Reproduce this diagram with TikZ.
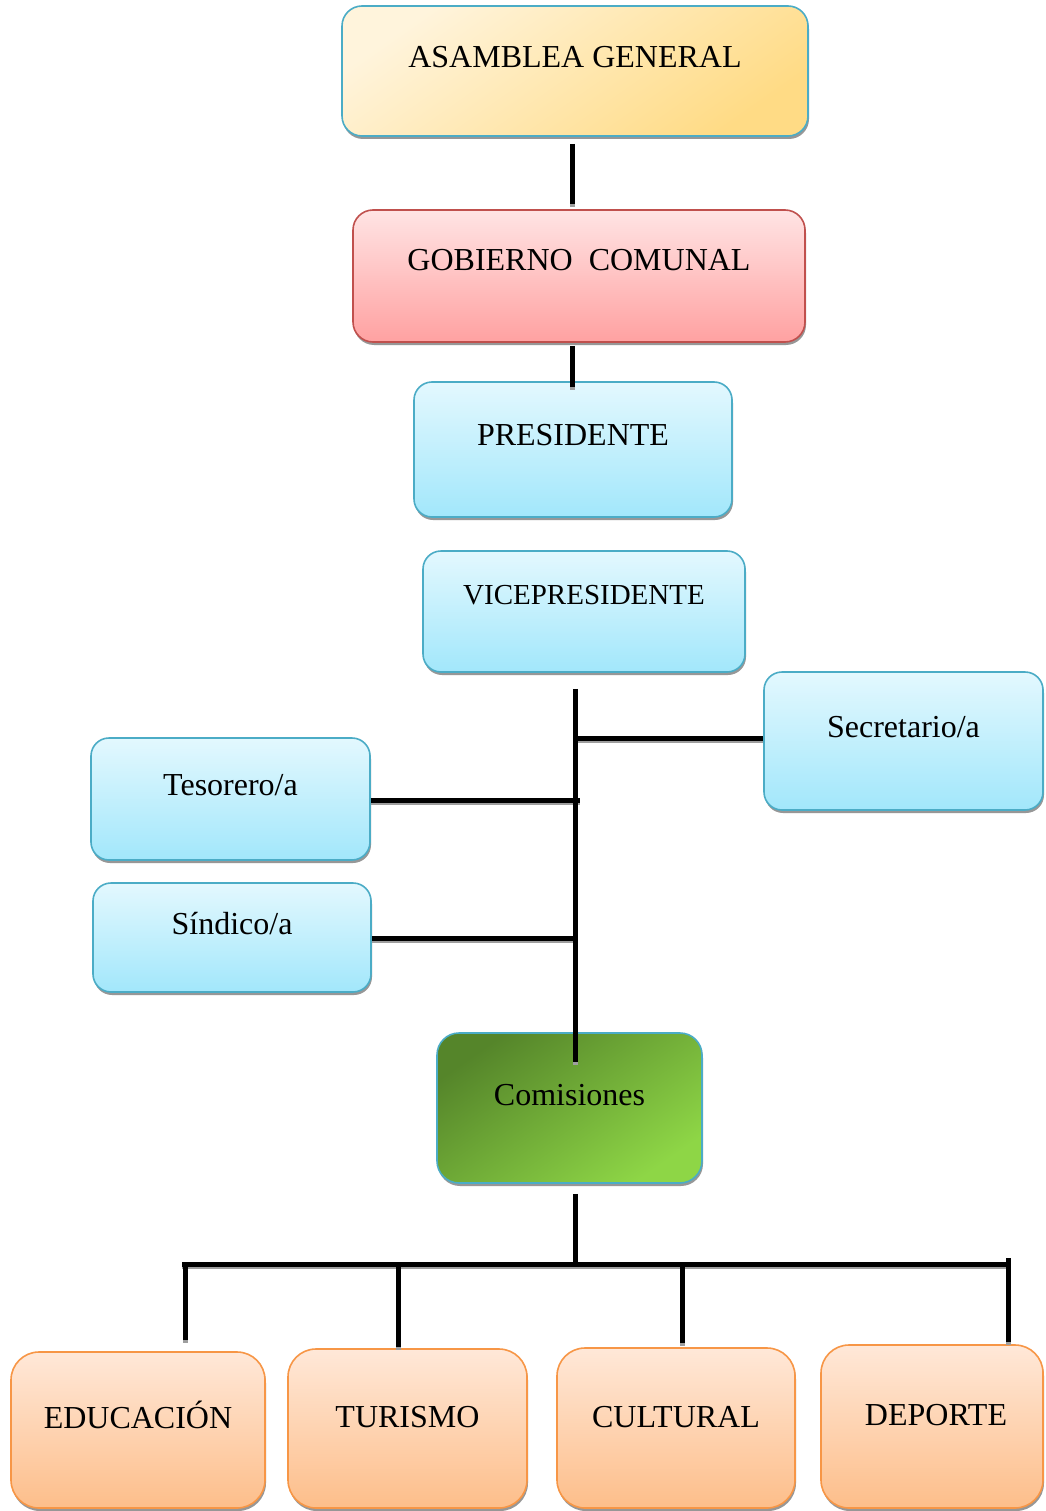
\documentclass[tikz,border=0pt]{standalone}
\usepackage{fontspec}
\setmainfont{Liberation Serif}
\usetikzlibrary{shadows,calc}
\definecolor{bord}{HTML}{4BACC6}
\definecolor{gobBorder}{HTML}{C0504D}
\definecolor{orBorder}{HTML}{F79646}
\definecolor{asmA}{HTML}{FFF4DC}
\definecolor{asmB}{HTML}{FFDB85}
\definecolor{gobA}{HTML}{FFE4E4}
\definecolor{gobB}{HTML}{FFA1A1}
\definecolor{blueA}{HTML}{E3F8FE}
\definecolor{blueB}{HTML}{A2E7FB}
\definecolor{comA}{HTML}{55852A}
\definecolor{comB}{HTML}{8ED646}
\definecolor{orA}{HTML}{FFE8D8}
\definecolor{orB}{HTML}{FDBE8A}
\newcommand\allconnectors{%
  \draw[conn] ($(asamblea.south)+(-3,7)$) -- ($(gobierno.north)+(-7,-5)$);
  \draw[conn] ($(gobierno.south)+(-7,3)$) -- ($(presidente.north)+(-1,6)$);
  \draw[conn] ($(vice.south)+(-9,16)$) -- ($(comisiones.north)+(5.5,30)$);
  \draw[conn] (jSec) -- (jSec -| secretario.west);
  \draw[conn] (jTes -| tesorero.east) -- (jTes);
  \draw[conn] (jSin -| sindico.east) -- (jSin);
  \draw[conn] ($(comisiones.south)+(5.5,10)$) -- (jCom);
  \draw[conn] (barL) -- (barR);
  \draw[conn] (dEdu |- barL) -- (dEdu);
  \draw[conn] (dTur |- barL) -- (dTur);
  \draw[conn] (dCul |- barL) -- (dCul);
  \draw[conn] ($(dDep |- barL)+(0,-6)$) -- (dDep);
}
\begin{document}
\begin{tikzpicture}[x=1pt,y=-1pt,
  box/.style={rounded corners=20pt, line width=1.6pt, draw=bord, inner sep=0pt,
    font=\fontsize{32}{38}\selectfont, text=black,
    drop shadow={shadow xshift=1pt, shadow yshift=-3pt, fill=black!45, opacity=0.9}},
  bluebox/.style={box, rounded corners=18pt, top color=blueA, bottom color=blueB},
  orangebox/.style={box, draw=orBorder, rounded corners=28pt, top color=orA, bottom color=orB}
]
\clip (0,0) rectangle (1045,1511);
\fill[white] (0,0) rectangle (1045,1511);

\node[box, top color=asmA, bottom color=asmB, shading angle=35,
  minimum width=466pt, text height=62pt, text depth=68pt] (asamblea) at (575,71) {ASAMBLEA GENERAL};
\node[box, draw=gobBorder, top color=gobA, bottom color=gobB,
  minimum width=452pt, text height=61pt, text depth=71pt] (gobierno) at (579,276) {GOBIERNO\ \ COMUNAL};
\node[bluebox, minimum width=318pt, text height=63pt, text depth=72pt] (presidente) at (573,449.5) {PRESIDENTE};
\node[bluebox, font=\fontsize{29}{35}\selectfont, minimum width=322pt, text height=53pt, text depth=68pt] (vice) at (584,611.5) {VICEPRESIDENTE};
\node[bluebox, minimum width=279pt, text height=65pt, text depth=73pt] (secretario) at (903.5,741) {Secretario/a};
\node[bluebox, minimum width=279pt, text height=57pt, text depth=65pt] (tesorero) at (230.5,799) {Tesorero/a};
\node[bluebox, minimum width=278pt, text height=51pt, text depth=58pt] (sindico) at (232,937.5) {Síndico/a};
\node[box, rounded corners=22pt, top color=comA, bottom color=comB, shading angle=35,
  minimum width=265pt, text height=72pt, text depth=78pt] (comisiones) at (569.5,1108) {Comisiones};
\node[orangebox, minimum width=254pt, text height=76pt, text depth=80pt] (educacion) at (138,1430) {EDUCACIÓN};
\node[orangebox, minimum width=239pt, text height=78pt, text depth=81pt] (turismo) at (407.5,1428.5) {TURISMO};
\node[orangebox, minimum width=238pt, text height=79pt, text depth=81pt] (cultural) at (676,1428) {CULTURAL};
\node[orangebox, minimum width=222pt, text height=80pt, text depth=83pt] (deporte) at (932,1426.5) {\hspace*{8pt}DEPORTE};

% junction coordinates
\coordinate (jSec) at (576,738);
\coordinate (jTes) at (580,800);
\coordinate (jSin) at (574,938);
\coordinate (jCom) at (575,1262);
\coordinate (barL) at (182,1264);
\coordinate (barR) at (1011,1264);
\coordinate (dEdu) at (185,1340);
\coordinate (dTur) at (398,1347);
\coordinate (dCul) at (682,1343);
\coordinate (dDep) at (1008,1342);

% connector shadows, then connectors
\begin{scope}[conn/.style={line width=5pt, draw=black!38}, transform canvas={yshift=-2.5pt}]
  \allconnectors
\end{scope}
\begin{scope}[conn/.style={line width=5pt, draw=black}]
  \allconnectors
\end{scope}
\end{tikzpicture}
\end{document}
